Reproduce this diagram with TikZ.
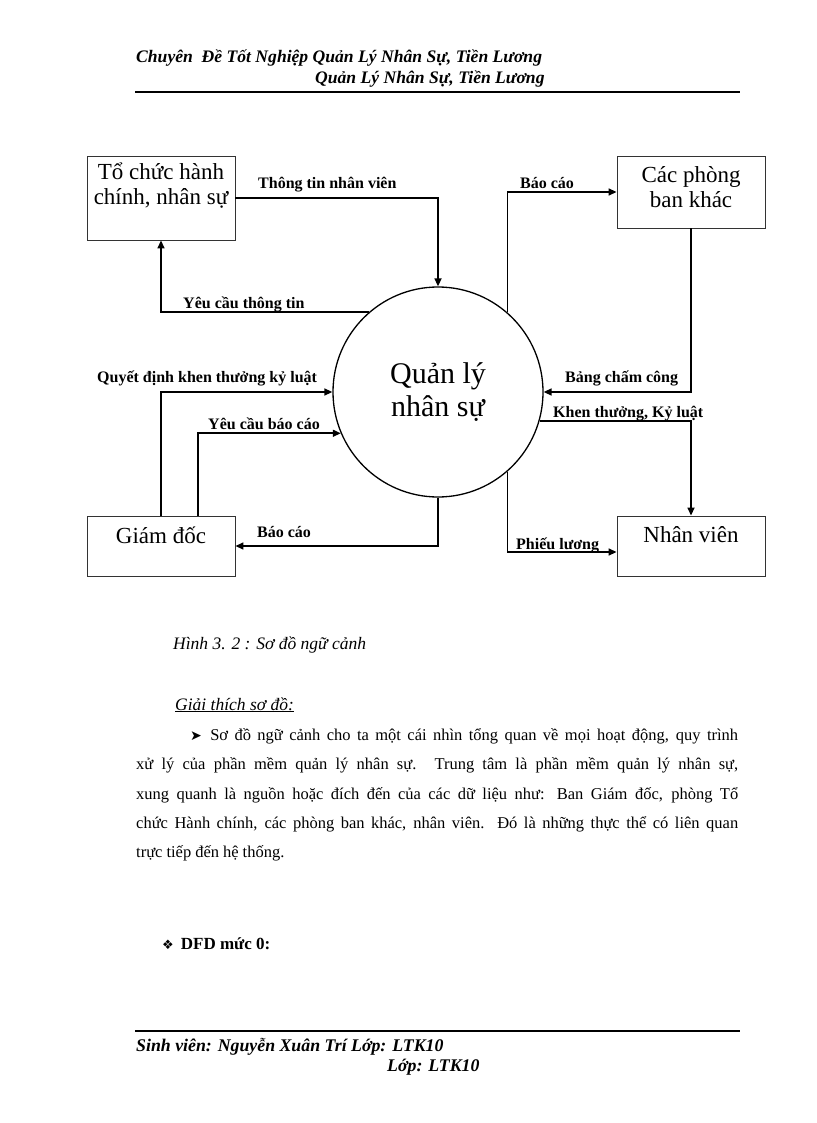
\documentclass[tikz,border=0pt]{standalone}
\usepackage{fontspec}
\setmainfont{Liberation Serif}
\newfontfamily\symfont{DejaVu Sans}
\newfontfamily\bodyfont{Liberation Serif}
\newcommand\tightsp{\spaceskip=4pt plus 20pt minus 1pt\relax}
\usetikzlibrary{arrows.meta}
\begin{document}
\begin{tikzpicture}[x=1pt,y=-1pt,
  box/.style={draw=black!80,line width=0.9pt,minimum width=148pt,inner sep=0pt},
  boxtext/.style={font=\fontsize{23}{25}\selectfont,align=center,inner sep=0pt},
  flow/.style={line width=1.6pt,-{Triangle[length=8pt,width=7pt]}},
  lbl/.style={font=\fontsize{16}{18}\selectfont\bfseries,inner sep=0pt},
  hdr/.style={font=\fontsize{17.6}{20}\selectfont\bfseries\itshape,inner sep=0pt,anchor=base west},
  body/.style={font=\bodyfont\fontsize{16.5}{19}\selectfont,inner sep=0pt,anchor=base west},
  rulel/.style={line width=1.6pt}]
\useasboundingbox[fill=white] (0,0) rectangle (816,1123);
% header
\node[hdr] (h1) at (136,63) {Chuyên\ \ Đề Tốt Nghiệp Quản Lý Nhân Sự, Tiền Lương};
\node[hdr] (h2) at (315,84) {Quản Lý Nhân Sự, Tiền Lương};
\coordinate (hl) at (135,92); \coordinate (hr) at (740,92);
\draw[rulel] (hl) -- (hr);
% boxes
\node[box,minimum height=84pt] (tc) at (161,198) {};
\node[boxtext] (tct) at (161,186) {Tổ chức hành\\chính, nhân sự};
\node[box,minimum height=72pt] (cp) at (691,192) {};
\node[boxtext] (cpt) at (691,187) {Các phòng\\ban khác};
\node[box,minimum height=60pt] (gd) at (161,546) {};
\node[boxtext] (gdt) at (161,535) {Giám đốc};
\node[box,minimum height=60pt] (nv) at (691,546) {};
\node[boxtext] (nvt) at (691,535) {Nhân viên};
% process
\node[draw,circle,line width=1.3pt,minimum size=210pt,inner sep=0pt,align=center,
      font=\fontsize{30}{33}\selectfont] (c) at (438,392) {Quản lý\\nhân sự};
% flows
\draw[flow] (tc.east) -| (c.north);
\draw[flow] (c.131) -| (tc.south);
\draw[flow] (c.49) |- (cp.west);
\draw[flow] (cp.south) |- (c.east);
\draw[flow] (c.-16) -| (nv.north);
\draw[flow] (c.-49) |- ([yshift=-6pt]nv.west);
\draw[flow] (c.south) |- (gd.east);
\draw[flow] (gd.north) |- (c.west);
\draw[flow] ([xshift=37pt]gd.north) |- (c.203);
% labels
\node[lbl,anchor=base west] (l1) at (258,189) {Thông tin nhân viên};
\node[lbl,anchor=base west] (l2) at (183,308) {Yêu cầu thông tin};
\node[lbl,anchor=base west] (l3) at (520,189) {Báo cáo};
\node[lbl,anchor=base west] (l4) at (565,382) {Bảng chấm công};
\node[lbl,anchor=base west] (l5) at (553,417) {Khen thưởng, Kỷ luật};
\node[lbl,anchor=base west] (l6) at (516,549) {Phiếu lương};
\node[lbl,anchor=base west] (l7) at (257,537) {Báo cáo};
\node[lbl,anchor=base west] (l8) at (97,382) {Quyết định khen thưởng kỷ luật};
\node[lbl,anchor=base west] (l9) at (208,429) {Yêu cầu báo cáo};
% caption and text
\node[body,font=\fontsize{17.5}{20}\selectfont\itshape] (cap) at (173,649) {Hình 3. 2 : Sơ đồ ngữ cảnh};
\node[body,font=\fontsize{17.5}{20}\selectfont\itshape] (gt) at (175,710) {\underline{Giải thích sơ đồ:}};
\node[body] (p1) at (190,740) {\tightsp\makebox[548pt][s]{{\symfont\fontsize{14}{16}\selectfont ➤}\hspace{2pt} Sơ đồ ngữ cảnh cho ta một cái nhìn tổng quan về mọi hoạt động, quy trình}};
\node[body] (p2) at (136,769) {\tightsp\makebox[602pt][s]{xử lý của phần mềm quản lý nhân sự. Trung tâm là phần mềm quản lý nhân sự,}};
\node[body] (p3) at (136,799) {\tightsp\makebox[602pt][s]{xung quanh là nguồn hoặc đích đến của các dữ liệu như: Ban Giám đốc, phòng Tổ}};
\node[body] (p4) at (136,828) {\tightsp\makebox[602pt][s]{chức Hành chính, các phòng ban khác, nhân viên. Đó là những thực thể có liên quan}};
\node[body] (p5) at (136,857) {\spaceskip=4pt\relax trực tiếp đến hệ thống.};
\node[body,font=\fontsize{17}{19}\selectfont\bfseries] (dfd) at (162,949) {{\symfont\fontsize{13}{14}\selectfont ❖}\hspace{7pt}DFD mức 0:};
% footer
\coordinate (fl) at (135,1031); \coordinate (fr) at (740,1031);
\draw[rulel] (fl) -- (fr);
\node[hdr,font=\fontsize{17.8}{20}\selectfont\bfseries\itshape] (f1) at (136,1051) {Sinh viên: Nguyễn Xuân Trí Lớp: LTK10};
\node[hdr,font=\fontsize{17.8}{20}\selectfont\bfseries\itshape] (f2) at (387,1071) {Lớp: LTK10};
\end{tikzpicture}
\end{document}
